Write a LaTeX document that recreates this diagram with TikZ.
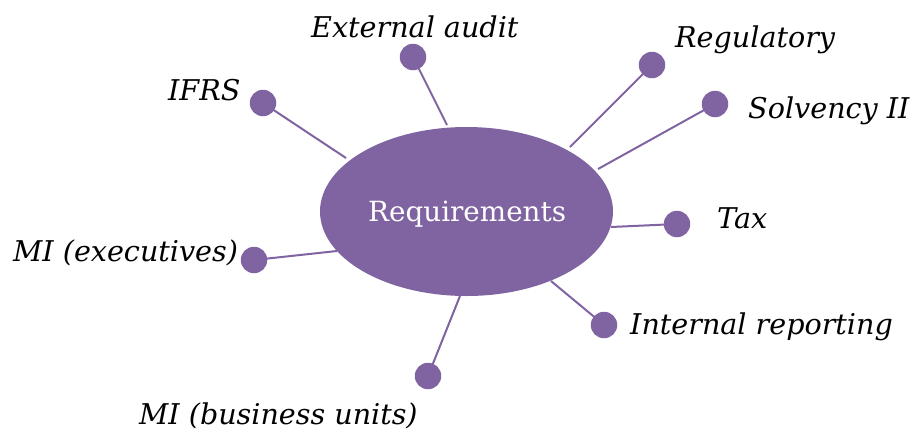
\documentclass[tikz,border=0pt]{standalone}
\usepackage{fontspec}
\setmainfont{DejaVu Serif}
\usetikzlibrary{shapes.geometric}
\definecolor{purp}{HTML}{8064A2}
\begin{document}
\begin{tikzpicture}[x=1pt,y=-1pt,
  dot/.style={circle,fill=purp,minimum size=26.5pt,inner sep=0pt},
  lab/.style={anchor=base west,inner sep=0pt,font=\fontsize{28.6}{32}\selectfont\itshape},
  link/.style={draw=purp,line width=2pt}]
\useasboundingbox (0,0) rectangle (914,432);
\node[ellipse,fill=purp,minimum width=293pt,minimum height=169pt,inner sep=0pt] (req) at (466.5,211.5) {};
\node[anchor=base west,inner sep=0pt,text=white,font=\fontsize{27.8}{32}\selectfont] (reqt) at (368,221) {Requirements};
% border points
\coordinate (eIFRS) at (346,158);
\coordinate (eAud) at (447,125);
\coordinate (eReg) at (570,147);
\coordinate (eSol) at (598,169);
\coordinate (eTax) at (611,227);
\coordinate (eInt) at (551,281);
\coordinate (eBU) at (460,296);
\coordinate (eEx) at (337,251);
% dots
\node[dot] (dIFRS) at (263,103) {};
\node[dot] (dAud) at (413,57) {};
\node[dot] (dReg) at (652,65) {};
\node[dot] (dSol) at (715,104) {};
\node[dot] (dTax) at (677,224) {};
\node[dot] (dInt) at (604,325) {};
\node[dot] (dBU) at (428,376) {};
\node[dot] (dEx) at (254,260) {};
% links
\draw[link] (dIFRS.center) -- (eIFRS);
\draw[link] (dAud.center) -- (eAud);
\draw[link] (dReg.center) -- (eReg);
\draw[link] (dSol.center) -- (eSol);
\draw[link] (dTax.center) -- (eTax);
\draw[link] (dInt.center) -- (eInt);
\draw[link] (dBU.center) -- (eBU);
\draw[link] (dEx.center) -- (eEx);
% labels
\node[lab] (tIFRS) at (168,100) {IFRS};
\node[lab] (tAud) at (311,37) {External audit};
\node[lab] (tReg) at (675,47) {Regulatory};
\node[lab] (tSol) at (748,118) {Solvency II};
\node[lab] (tTax) at (717,228) {Tax};
\node[lab] (tInt) at (630,334) {Internal reporting};
\node[lab] (tEx) at (13,261) {MI (executives)};
\node[lab] (tBU) at (139,424) {MI (business units)};
\end{tikzpicture}
\end{document}
